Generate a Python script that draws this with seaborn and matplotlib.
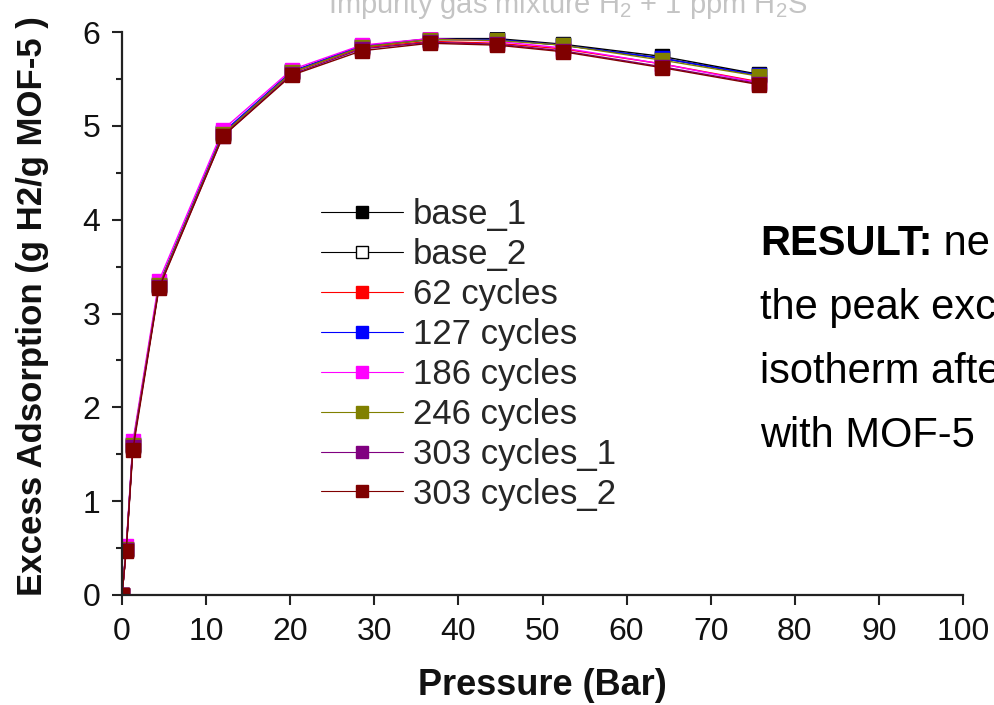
import numpy as np
import pandas as pd
import matplotlib
matplotlib.use("Agg")
import matplotlib.pyplot as plt
import seaborn as sns
from matplotlib.ticker import MultipleLocator

# ---------------- data ----------------
pressure = [0, 0.5, 1.3, 4.4, 12.0, 20.2, 28.5, 36.6, 44.6, 52.4, 64.2, 75.7]

series_names = ["base_1", "base_2", "62 cycles", "127 cycles", "186 cycles",
                "246 cycles", "303 cycles_1", "303 cycles_2"]

base_1      = [0, 0.49, 1.60, 3.30, 4.92, 5.58, 5.85, 5.93, 5.93, 5.87, 5.74, 5.55]
base_2      = [0, 0.48, 1.59, 3.29, 4.91, 5.57, 5.84, 5.92, 5.92, 5.86, 5.72, 5.54]
cycles_62   = [0, 0.49, 1.60, 3.30, 4.92, 5.57, 5.83, 5.90, 5.88, 5.82, 5.66, 5.47]
cycles_127  = [0, 0.49, 1.61, 3.31, 4.93, 5.58, 5.85, 5.92, 5.92, 5.86, 5.72, 5.54]
cycles_186  = [0, 0.52, 1.64, 3.35, 4.96, 5.60, 5.86, 5.93, 5.90, 5.83, 5.66, 5.46]
cycles_246  = [0, 0.49, 1.60, 3.30, 4.91, 5.57, 5.84, 5.92, 5.91, 5.86, 5.70, 5.53]
cycles_303a = [0, 0.48, 1.58, 3.28, 4.89, 5.55, 5.82, 5.89, 5.87, 5.80, 5.63, 5.45]
cycles_303b = [0, 0.47, 1.55, 3.27, 4.89, 5.54, 5.80, 5.88, 5.86, 5.79, 5.62, 5.44]

series_values = [base_1, base_2, cycles_62, cycles_127, cycles_186,
                 cycles_246, cycles_303a, cycles_303b]

line_colors = ["#000000", "#000000", "#ff0000", "#0000ff", "#ff00ff",
               "#808000", "#800080", "#800000"]
face_colors = ["#000000", "#ffffff", "#ff0000", "#0000ff", "#ff00ff",
               "#808000", "#800080", "#800000"]

x_ticks = [0, 10, 20, 30, 40, 50, 60, 70, 80, 90, 100]
y_ticks = [0, 1, 2, 3, 4, 5, 6]

title_text = "Impurity gas mixture H$_2$ + 1 ppm H$_2$S"
xlabel_text = "Pressure (Bar)"
ylabel_text = "Excess Adsorption (g H2/g MOF-5 )"
result_lines = [("RESULT:", " ne"), ("", "the peak exc"), ("", "isotherm afte"), ("", "with MOF-5")]

# ---------------- style ----------------
sns.set_style("ticks")
plt.rcParams["font.family"] = ["Liberation Sans", "DejaVu Sans"]
plt.rcParams["mathtext.fontset"] = "custom"
plt.rcParams["mathtext.rm"] = "Liberation Sans"
plt.rcParams["mathtext.it"] = "Liberation Sans"

rows = []
for name, vals in zip(series_names, series_values):
    for p, v in zip(pressure, vals):
        rows.append({"Series": name, "Pressure": p, "Excess": v})
df = pd.DataFrame(rows)

W, H = 994, 705
fig = plt.figure(figsize=(W / 100, H / 100), dpi=100)
ax = fig.add_axes([122 / W, 1 - 595 / H, (963 - 122) / W, (595 - 32) / H])

for name, lc, fc in zip(series_names, line_colors, face_colors):
    sub = df[df["Series"] == name]
    sns.lineplot(data=sub, x="Pressure", y="Excess", ax=ax, color=lc,
                 linewidth=1.0, marker="s", markersize=10,
                 markerfacecolor=fc, markeredgecolor=lc, markeredgewidth=1.0,
                 estimator=None, sort=False, label=name, legend=False)

ax.set_xlim(0, 100)
ax.set_ylim(0, 6)
ax.set_xticks(x_ticks)
ax.set_yticks(y_ticks)
ax.yaxis.set_minor_locator(MultipleLocator(0.5))
ax.set_xlabel("")
ax.set_ylabel("")
sns.despine(ax=ax)
for s in ["left", "bottom"]:
    ax.spines[s].set_linewidth(1.6)
    ax.spines[s].set_color("#222222")
ax.tick_params(axis="both", which="major", direction="out", length=7.5, width=1.5,
               labelsize=23, pad=8, colors="#222222", labelcolor="#111111")
ax.tick_params(axis="y", which="minor", direction="out", length=4, width=1.5,
               colors="#222222")

handles, labels = ax.get_legend_handles_labels()
leg = fig.legend(handles, labels, loc="upper left",
                 bbox_to_anchor=(321 / W, 1 - 198 / H), frameon=False,
                 fontsize=25, handlelength=2.35, handletextpad=0.3,
                 labelspacing=0.2, borderpad=0, borderaxespad=0)
for h in leg.legend_handles:
    h.set_markersize(8)
    h.set_linewidth(0.8)

fig.text(568 / W, 1 - 13 / H, title_text, ha="center", va="baseline",
         fontsize=21, color="#c4c4c4")
fig.text(542 / W, 1 - 695 / H, xlabel_text, ha="center", va="baseline",
         fontsize=26, fontweight="bold", color="#111111")
fig.text(42 / W, 1 - 306 / H, ylabel_text, ha="center", va="baseline",
         rotation=90, rotation_mode="anchor", fontsize=25, fontweight="bold",
         color="#111111")

renderer = fig.canvas.get_renderer()
baselines = [255, 319, 383, 447]
for (bold_part, rest), yb in zip(result_lines, baselines):
    x0 = 760 / W
    if bold_part:
        t = fig.text(x0, 1 - yb / H, bold_part, ha="left", va="baseline",
                     fontsize=30, fontweight="bold", color="black")
        bb = t.get_window_extent(renderer=renderer)
        x0 = bb.x1 / W
    fig.text(x0, 1 - yb / H, rest, ha="left", va="baseline", fontsize=30,
             color="black")

fig.savefig("out.png", dpi=100, facecolor="white")
